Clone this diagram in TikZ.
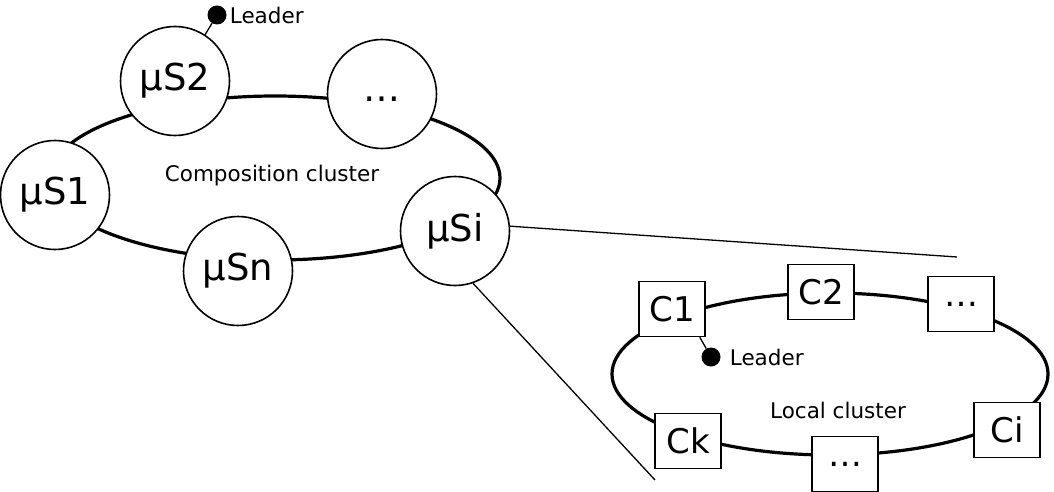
\documentclass[tikz,border=0pt]{standalone}
\usepackage{fontspec}
\setmainfont{DejaVu Sans}
\begin{document}
\begin{tikzpicture}[x=1pt,y=-1pt,
  ring/.style={line width=3.2pt},
  svc/.style={circle,draw,line width=1.6pt,fill=white,minimum size=109pt,inner sep=0pt,font=\fontsize{37}{40}\selectfont},
  comp/.style={rectangle,draw,line width=1.6pt,fill=white,minimum width=66pt,minimum height=55pt,inner sep=0pt,font=\fontsize{34}{38}\selectfont},
  dot/.style={circle,fill=black,minimum size=19pt,inner sep=0pt},
  small/.style={font=\fontsize{21.5}{24}\selectfont,inner sep=0pt},
  zoomline/.style={line width=1.3pt},
  leadline/.style={line width=1.3pt}]
\useasboundingbox (0,0) rectangle (1054,492);
% composition cluster ring
\coordinate (cc) at (275,178);
\draw[ring] (cc) ellipse [x radius=225, y radius=82];
\node[small] (cctext) at (272,176) {Composition cluster};
% local cluster ring
\coordinate (lc) at (830,374);
\draw[ring] (lc) ellipse [x radius=218, y radius=81];
\node[small] (lctext) at (838,410) {Local cluster};
% microservices
\node[svc] (s1) at (55,195) {μS1};
\node[svc] (s2) at (175,81) {μS2};
\node[svc,text height=16pt,text depth=0pt] (sd) at (382,94) {…};
\node[svc] (si) at (455,231) {μSi};
\node[svc] (sn) at (238,271) {μSn};
% components
\node[comp] (c1) at (672,309) {C1};
\node[comp] (c2) at (821,292) {C2};
\node[comp] (cd1) at (961,304) {…};
\node[comp] (ci) at (1007,430) {Ci};
\node[comp] (cd2) at (845,464) {…};
\node[comp] (ck) at (688,441) {Ck};
% zoom lines
\coordinate (z1) at (957,257);
\coordinate (z2) at (655,480);
\draw[zoomline] (si.5) -- (z1);
\draw[zoomline] (si.-71) -- (z2);
% leaders
\node[dot] (l1) at (217,15) {};
\draw[leadline] (s2.57) -- (l1);
\node[small,anchor=west] (l1t) at ([xshift=3pt]l1.east) {Leader};
\node[dot] (l2) at (711,357) {};
\draw[leadline] ([xshift=-6pt]c1.south east) -- (l2);
\node[small,anchor=west] (l2t) at ([xshift=9pt]l2.east) {Leader};
\end{tikzpicture}
\end{document}
